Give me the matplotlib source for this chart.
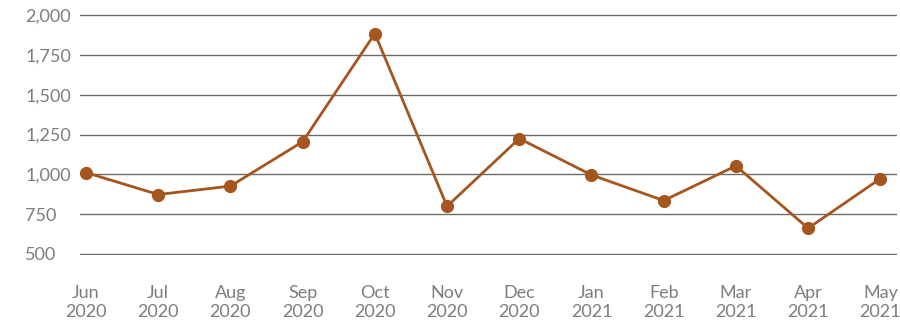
import numpy as np
import matplotlib.pyplot as plt

months = ["Jun\n2020", "Jul\n2020", "Aug\n2020", "Sep\n2020", "Oct\n2020", "Nov\n2020",
          "Dec\n2020", "Jan\n2021", "Feb\n2021", "Mar\n2021", "Apr\n2021", "May\n2021"]
values = [1011, 873, 926, 1205, 1885, 799, 1225, 996, 835, 1053, 661, 973]
yticks = [500, 750, 1000, 1250, 1500, 1750, 2000]

plt.rcParams['font.family'] = ['Lato', 'DejaVu Sans']

fig = plt.figure(figsize=(9, 3.29), dpi=100)
ax = fig.add_axes([0.0889, 0.226, 0.9081, 0.730])

x = np.arange(len(months))
ax.plot(x, values, color="#A5561F", linewidth=2, marker="o", markersize=8.5, zorder=3)

ax.set_xlim(-0.083, 11.235)
ax.set_ylim(495, 2005)
ax.set_yticks(yticks)
ax.set_yticklabels([f"{v:,}" for v in yticks])
ax.set_xticks(x)
ax.set_xticklabels(months, linespacing=1.25)

ax.grid(axis="y", color="#6b6b6b", linewidth=1)
ax.set_axisbelow(True)
for s in ax.spines.values():
    s.set_visible(False)

ax.tick_params(axis="y", length=0, pad=39.5, labelsize=13, labelcolor="#7d7d7d")
ax.tick_params(axis="x", length=0, pad=22, labelsize=13, labelcolor="#7d7d7d")
for lbl in ax.get_yticklabels():
    lbl.set_horizontalalignment("left")

fig.savefig("out.png", dpi=100)
